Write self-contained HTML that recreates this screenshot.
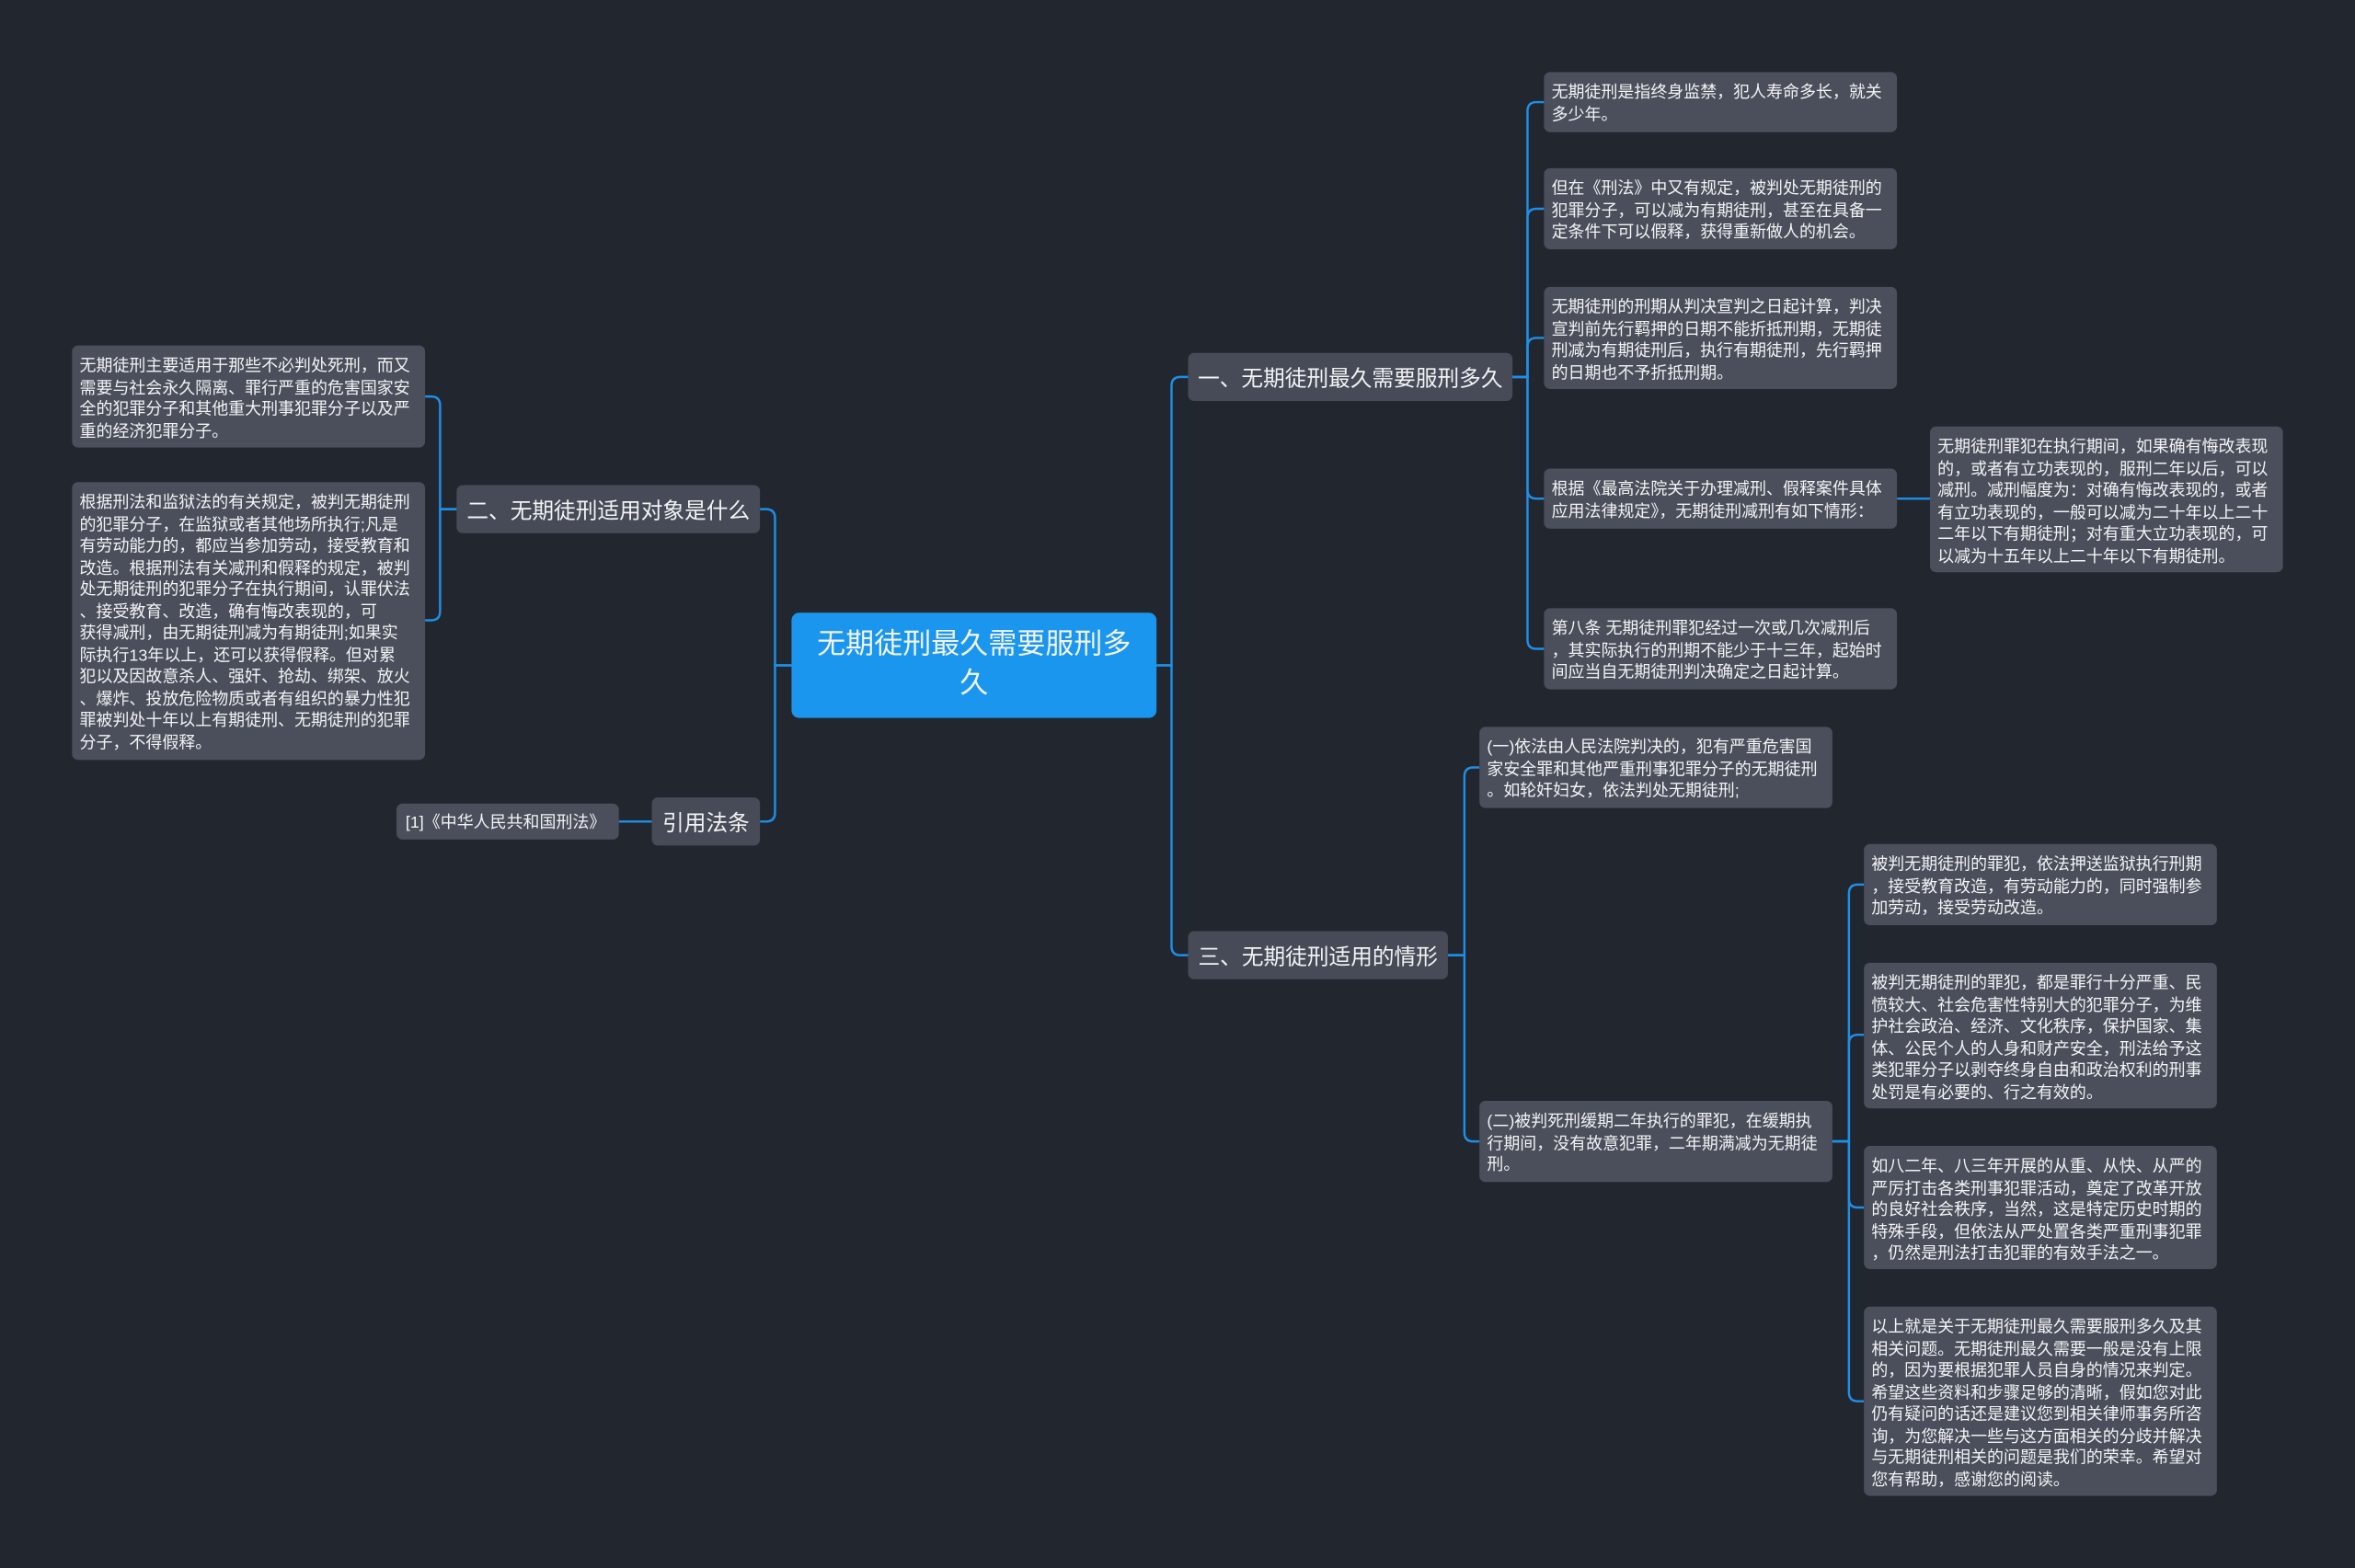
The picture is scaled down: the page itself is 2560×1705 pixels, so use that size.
<!DOCTYPE html>
<html><head><meta charset="utf-8">
<style>
html,body{margin:0;padding:0;background:#22262f;}
body{width:2560px;height:1705px;overflow:hidden;}
#w{position:absolute;left:0;top:0;width:1568px;height:1044px;transform:scale(1.6327,1.6331);transform-origin:0 0;background:#22262f;}
.n{position:absolute;box-sizing:border-box;color:#f2f3f5;font-family:"Liberation Sans","Noto Sans CJK SC",sans-serif;border-radius:4px;}
.leaf{background:#4a4f5b;font-size:11px;line-height:14.5px;padding:7px 5px 3px 5px;white-space:nowrap;overflow:hidden;}
.br{background:#464b57;font-size:14.5px;display:flex;align-items:center;justify-content:center;white-space:nowrap;}
.c{background:#1a96ee;font-size:19px;line-height:26px;text-align:center;display:flex;align-items:center;justify-content:center;border-radius:5px;}
svg{position:absolute;left:0;top:0;}
</style></head><body><div id="w">
<svg width="1568" height="1044" fill="none" stroke="#1f8fe6" stroke-width="1.5">
<path d="M770 443 H780 V257 Q780 251 786 251 H791"/>
<path d="M770 443 H780 V630 Q780 636 786 636 H791"/>
<path d="M527 443 H516 V345 Q516 339 510 339 H506"/>
<path d="M527 443 H516 V541 Q516 547 510 547 H506"/>
<path d="M1007 251 H1017 V74 Q1017 68 1023 68 H1028"/>
<path d="M1007 251 H1017 V145 Q1017 139 1023 139 H1028"/>
<path d="M1007 251 H1017 V231 Q1017 225 1023 225 H1028"/>
<path d="M1007 251 H1017 V326 Q1017 332 1023 332 H1028"/>
<path d="M1007 251 H1017 V426 Q1017 432 1023 432 H1028"/>
<path d="M1263 332 H1285"/>
<path d="M304 339 H293 V270 Q293 264 287 264 H283"/>
<path d="M304 339 H293 V407 Q293 413 287 413 H283"/>
<path d="M434 547 H412"/>
<path d="M964 636 H975 V517 Q975 511 981 511 H985"/>
<path d="M964 636 H975 V754 Q975 760 981 760 H985"/>
<path d="M1220 760 H1231 V595 Q1231 589 1237 589 H1241"/>
<path d="M1220 760 H1231 V695 Q1231 689 1237 689 H1241"/>
<path d="M1220 760 H1231 V798 Q1231 804 1237 804 H1241"/>
<path d="M1220 760 H1231 V927 Q1231 933 1237 933 H1241"/>
</svg>

<div class="n c" style="left:527px;top:408px;width:243px;height:70px;">无期徒刑最久需要服刑多<br>久</div>

<div class="n br" style="left:791px;top:235px;width:216px;height:32px;">一、无期徒刑最久需要服刑多久</div>
<div class="n br" style="left:791px;top:620px;width:173px;height:32px;">三、无期徒刑适用的情形</div>
<div class="n br" style="left:304px;top:323px;width:202px;height:32px;">二、无期徒刑适用对象是什么</div>
<div class="n br" style="left:434px;top:531px;width:72px;height:32px;">引用法条</div>

<div class="n leaf" style="left:1028px;top:48px;width:235px;height:40px;">无期徒刑是指终身监禁，犯人寿命多长，就关<br>多少年。</div>
<div class="n leaf" style="left:1028px;top:112px;width:235px;height:54px;">但在《刑法》中又有规定，被判处无期徒刑的<br>犯罪分子，可以减为有期徒刑，甚至在具备一<br>定条件下可以假释，获得重新做人的机会。</div>
<div class="n leaf" style="left:1028px;top:191px;width:235px;height:68px;">无期徒刑的刑期从判决宣判之日起计算，判决<br>宣判前先行羁押的日期不能折抵刑期，无期徒<br>刑减为有期徒刑后，执行有期徒刑，先行羁押<br>的日期也不予折抵刑期。</div>
<div class="n leaf" style="left:1028px;top:312px;width:235px;height:40px;">根据《最高法院关于办理减刑、假释案件具体<br>应用法律规定》，无期徒刑减刑有如下情形：</div>
<div class="n leaf" style="left:1285px;top:284px;width:235px;height:97px;">无期徒刑罪犯在执行期间，如果确有悔改表现<br>的，或者有立功表现的，服刑二年以后，可以<br>减刑。减刑幅度为：对确有悔改表现的，或者<br>有立功表现的，一般可以减为二十年以上二十<br>二年以下有期徒刑；对有重大立功表现的，可<br>以减为十五年以上二十年以下有期徒刑。</div>
<div class="n leaf" style="left:1028px;top:405px;width:235px;height:54px;">第八条 无期徒刑罪犯经过一次或几次减刑后<br>，其实际执行的刑期不能少于十三年，起始时<br>间应当自无期徒刑判决确定之日起计算。</div>

<div class="n leaf" style="left:985px;top:484px;width:235px;height:54px;">(一)依法由人民法院判决的，犯有严重危害国<br>家安全罪和其他严重刑事犯罪分子的无期徒刑<br>。如轮奸妇女，依法判处无期徒刑;</div>
<div class="n leaf" style="left:985px;top:733px;width:235px;height:54px;">(二)被判死刑缓期二年执行的罪犯，在缓期执<br>行期间，没有故意犯罪，二年期满减为无期徒<br>刑。</div>

<div class="n leaf" style="left:1241px;top:562px;width:235px;height:54px;">被判无期徒刑的罪犯，依法押送监狱执行刑期<br>，接受教育改造，有劳动能力的，同时强制参<br>加劳动，接受劳动改造。</div>
<div class="n leaf" style="left:1241px;top:641px;width:235px;height:97px;">被判无期徒刑的罪犯，都是罪行十分严重、民<br>愤较大、社会危害性特别大的犯罪分子，为维<br>护社会政治、经济、文化秩序，保护国家、集<br>体、公民个人的人身和财产安全，刑法给予这<br>类犯罪分子以剥夺终身自由和政治权利的刑事<br>处罚是有必要的、行之有效的。</div>
<div class="n leaf" style="left:1241px;top:763px;width:235px;height:82px;">如八二年、八三年开展的从重、从快、从严的<br>严厉打击各类刑事犯罪活动，奠定了改革开放<br>的良好社会秩序，当然，这是特定历史时期的<br>特殊手段，但依法从严处置各类严重刑事犯罪<br>，仍然是刑法打击犯罪的有效手法之一。</div>
<div class="n leaf" style="left:1241px;top:870px;width:235px;height:126px;">以上就是关于无期徒刑最久需要服刑多久及其<br>相关问题。无期徒刑最久需要一般是没有上限<br>的，因为要根据犯罪人员自身的情况来判定。<br>希望这些资料和步骤足够的清晰，假如您对此<br>仍有疑问的话还是建议您到相关律师事务所咨<br>询，为您解决一些与这方面相关的分歧并解决<br>与无期徒刑相关的问题是我们的荣幸。希望对<br>您有帮助，感谢您的阅读。</div>

<div class="n leaf" style="left:48px;top:230px;width:235px;height:68px;">无期徒刑主要适用于那些不必判处死刑，而又<br>需要与社会永久隔离、罪行严重的危害国家安<br>全的犯罪分子和其他重大刑事犯罪分子以及严<br>重的经济犯罪分子。</div>
<div class="n leaf" style="left:48px;top:321px;width:235px;height:185px;">根据刑法和监狱法的有关规定，被判无期徒刑<br>的犯罪分子，在监狱或者其他场所执行;凡是<br>有劳动能力的，都应当参加劳动，接受教育和<br>改造。根据刑法有关减刑和假释的规定，被判<br>处无期徒刑的犯罪分子在执行期间，认罪伏法<br>、接受教育、改造，确有悔改表现的，可<br>获得减刑，由无期徒刑减为有期徒刑;如果实<br>际执行13年以上，还可以获得假释。但对累<br>犯以及因故意杀人、强奸、抢劫、绑架、放火<br>、爆炸、投放危险物质或者有组织的暴力性犯<br>罪被判处十年以上有期徒刑、无期徒刑的犯罪<br>分子，不得假释。</div>
<div class="n leaf" style="left:264px;top:535px;width:148px;height:24px;padding:5px 6px 3px 6px;line-height:16px;">[1]《中华人民共和国刑法》</div>
</div></body></html>
